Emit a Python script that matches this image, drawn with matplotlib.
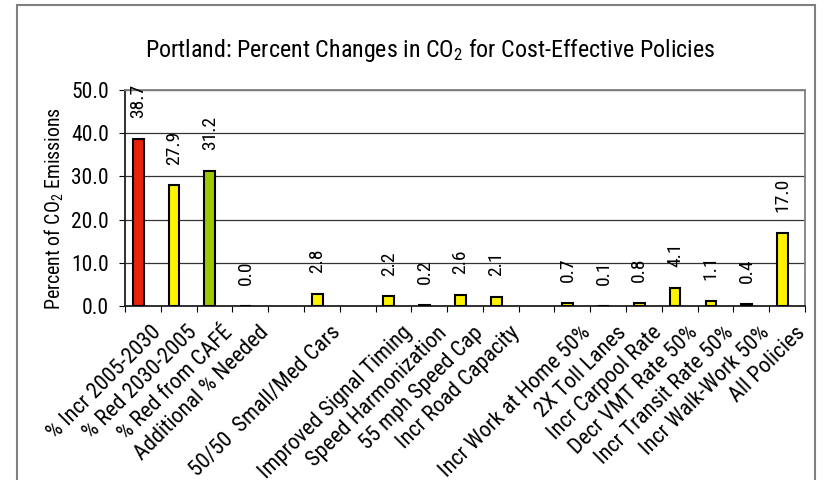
import matplotlib
matplotlib.use("Agg")
import matplotlib.pyplot as plt
import matplotlib.transforms as mtransforms
from matplotlib.patches import Rectangle

plt.rcParams['font.family'] = ['Roboto Condensed', 'DejaVu Sans']
plt.rcParams['mathtext.fontset'] = 'custom'
plt.rcParams['mathtext.rm'] = 'Roboto Condensed'
plt.rcParams['mathtext.it'] = 'Roboto Condensed'

# policy categories (empty strings are gaps between policy groups)
categories = ['% Incr 2005-2030', '% Red 2030-2005', '% Red from CAFÉ', 'Additional % Needed',
              '', '50/50  Small/Med Cars', '', 'Improved Signal Timing', 'Speed Harmonization',
              '55 mph Speed Cap', 'Incr Road Capacity', '', 'Incr Work at Home 50%',
              '2X Toll Lanes', 'Incr Carpool Rate', 'Decr VMT Rate 50%', 'Incr Transit Rate 50%',
              'Incr Walk-Work 50%', 'All Policies']
values = [38.7, 27.9, 31.2, 0.0, None, 2.8, None, 2.2, 0.2, 2.6, 2.1, None,
          0.7, 0.1, 0.8, 4.1, 1.1, 0.4, 17.0]
bar_colors = ['#E8230C', '#FFF200', '#9BC900', '#FFF200', None, '#FFF200', None,
              '#FFF200', '#FFF200', '#FFF200', '#FFF200', None, '#FFF200', '#FFF200',
              '#FFF200', '#FFF200', '#FFF200', '#FFF200', '#FFF200']
y_ticks = [0, 10, 20, 30, 40, 50]

fig = plt.figure(figsize=(8.25, 4.8), dpi=100)
ax = fig.add_axes([0.1515, 0.3625, 0.8243, 0.45])

# outer chart frame
fig.patches.append(Rectangle((17 / 825, -0.1), 798 / 825, 1.1 - 5 / 480,
                             transform=fig.transFigure, fill=False,
                             edgecolor='#808080', linewidth=1.5, clip_on=False))

# bars sit a little left of the slot centre
bar_shift = -0.13
for i, (v, c) in enumerate(zip(values, bar_colors)):
    if v is None:
        continue
    ax.bar(i + bar_shift, v, width=0.3, color=c, edgecolor='black', linewidth=1.5, zorder=3)
    ax.annotate(f'{v:.1f}', (i + bar_shift, v), xytext=(0, 15), textcoords='offset points',
                rotation=90, ha='center', va='bottom', fontsize=14, zorder=4)

ax.set_xlim(-0.5, len(categories) - 0.5)
ax.set_ylim(0, 50)
ax.set_yticks(y_ticks)
ax.set_yticklabels([f'{t:.1f}' for t in y_ticks], fontsize=15.5)
ax.yaxis.grid(True, color='#333333', linewidth=0.9, zorder=0)

ax.set_xticks(range(len(categories)))
ax.set_xticklabels(categories, rotation=45, ha='right', va='center',
                   rotation_mode='anchor', fontsize=16)
ax.set_xticks([i - 0.5 for i in range(len(categories) + 1)], minor=True)
ax.tick_params(axis='x', which='major', length=0, pad=17)
ax.tick_params(axis='x', which='minor', length=4, direction='out', width=0.8)
ax.tick_params(axis='y', length=4, direction='out', width=0.8, pad=7.5)
shift = mtransforms.ScaledTranslation(11 / 72, 0, fig.dpi_scale_trans)
for lbl in ax.get_xticklabels():
    lbl.set_transform(lbl.get_transform() + shift)

ax.spines['left'].set_color('#202020')
ax.spines['bottom'].set_color('#202020')
ax.spines['top'].set_color('#808080')
ax.spines['right'].set_color('#808080')
for s in ax.spines.values():
    s.set_linewidth(1.3)

ax.set_ylabel('Percent of CO$_2$ Emissions', fontsize=14.3)
ax.yaxis.set_label_coords(-0.087, 0.45)
fig.text(0.521, 0.895, 'Portland: Percent Changes in CO$_2$ for Cost-Effective Policies',
         ha='center', va='center', fontsize=17.3)

fig.savefig('out.png', dpi=100)
